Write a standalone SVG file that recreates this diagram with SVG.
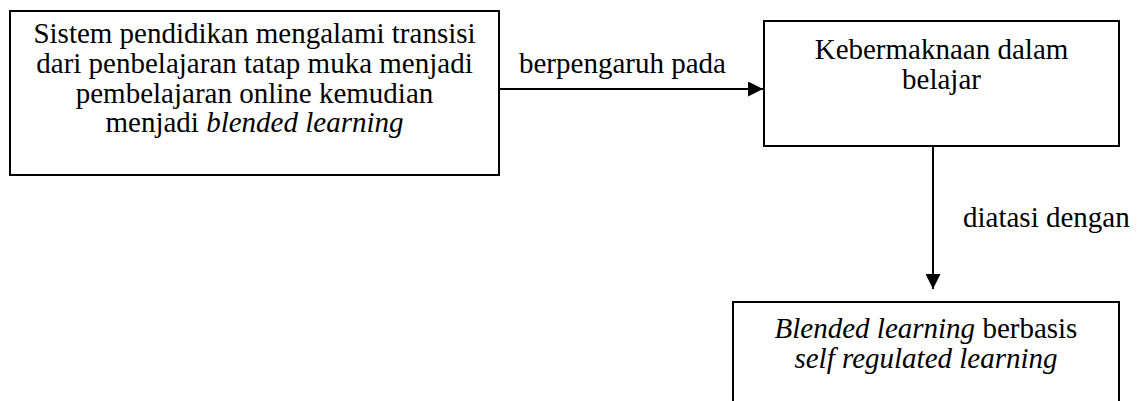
<svg xmlns="http://www.w3.org/2000/svg" width="1137" height="401" viewBox="0 0 1137 401">
  <style>
    .box { fill: #ffffff; stroke: #000000; stroke-width: 2; }
    .txt { font-family: 'Liberation Serif', serif; font-size: 29px; fill: #000000; text-anchor: middle; }
    .lbl { font-family: 'Liberation Serif', serif; font-size: 29px; fill: #000000; }
    .it { font-style: italic; }
    .edge { stroke: #000000; stroke-width: 2; fill: none; }
  </style>
  <defs>
    <marker id="arrow" markerWidth="16" markerHeight="15" refX="15" refY="7.5" orient="auto" markerUnits="userSpaceOnUse">
      <path d="M0,0 L15,7.5 L0,15 Z" fill="#000000"/>
    </marker>
  </defs>
  <rect width="1137" height="401" fill="#ffffff"/>

  <g id="node-transisi">
    <rect class="box" x="10" y="11" width="489" height="164"/>
    <text class="txt" x="254.5" y="43">Sistem pendidikan mengalami transisi</text>
    <text class="txt" x="254.5" y="73">dari penbelajaran tatap muka menjadi</text>
    <text class="txt" x="254.5" y="103">pembelajaran online kemudian</text>
    <text class="txt" x="254.5" y="132">menjadi <tspan class="it">blended learning</tspan></text>
  </g>

  <g id="node-kebermaknaan">
    <rect class="box" x="764" y="21" width="355" height="125"/>
    <text class="txt" x="941.5" y="59">Kebermaknaan dalam</text>
    <text class="txt" x="941.5" y="89">belajar</text>
  </g>

  <g id="node-blended">
    <rect class="box" x="733" y="302" width="386" height="110"/>
    <text class="txt" x="926" y="338"><tspan class="it">Blended learning</tspan> berbasis</text>
    <text class="txt it" x="926" y="368">self regulated learning</text>
  </g>

  <g id="connectors">
    <line class="edge" x1="499" y1="89" x2="763" y2="89" marker-end="url(#arrow)"/>
    <text class="lbl" x="519" y="73">berpengaruh pada</text>
    <line class="edge" x1="933" y1="146" x2="933" y2="289" marker-end="url(#arrow)"/>
    <text class="lbl" x="963" y="227">diatasi dengan</text>
  </g>
</svg>
